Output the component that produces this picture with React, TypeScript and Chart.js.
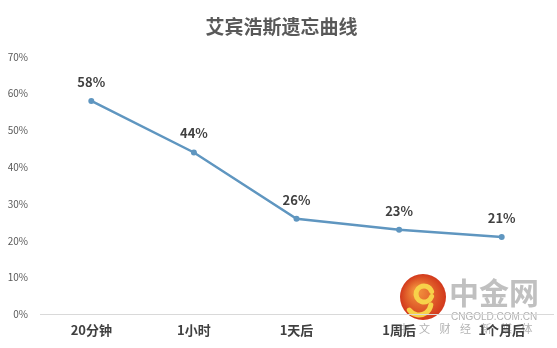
import React, { useEffect, useRef } from "react";
import { Chart, registerables } from "chart.js";

Chart.register(...registerables);

const TITLE = "艾宾浩斯遗忘曲线";
const categories = ["20分钟", "1小时", "1天后", "1周后", "1个月后"];
const retention = [58, 44, 26, 23, 21];
const yTicks = [0, 10, 20, 30, 40, 50, 60, 70];
const watermarkMain = "中金网";
const watermarkSub = "CNGOLD.COM.CN";
const watermarkSlogan = ["中", "文", "财", "经", "新", "媒", "体"];

const FONT = "'Noto Sans CJK SC', 'Noto Sans', sans-serif";

const watermarkPlugin = {
  id: "watermark",
  beforeDraw(chart: any) {
    const ctx = chart.ctx;
    ctx.save();
    const cx = 423, cy = 297, r = 23;
    const g = ctx.createRadialGradient(cx - 6, cy - 6, 4, cx, cy, r);
    g.addColorStop(0, "#f08a3a");
    g.addColorStop(1, "#d2381c");
    ctx.fillStyle = g;
    ctx.beginPath();
    ctx.arc(cx, cy, r, 0, Math.PI * 2);
    ctx.fill();
    ctx.strokeStyle = "#f7d24a";
    ctx.lineWidth = 5;
    ctx.lineCap = "round";
    ctx.beginPath();
    ctx.arc(cx + 1, cy - 3, 8, Math.PI * 0.1, Math.PI * 1.9);
    ctx.stroke();
    ctx.beginPath();
    ctx.arc(cx - 4, cy + 6, 12, Math.PI * 0.05, Math.PI * 0.8);
    ctx.stroke();
    ctx.fillStyle = "rgba(185,185,185,0.9)";
    ctx.font = `bold 30px ${FONT}`;
    ctx.textBaseline = "middle";
    ctx.textAlign = "left";
    ctx.fillText(watermarkMain, 449, 293);
    ctx.font = `10px 'Liberation Sans', sans-serif`;
    ctx.fillStyle = "rgba(170,170,170,0.9)";
    ctx.fillText(watermarkSub, 451, 317);
    ctx.font = `11px ${FONT}`;
    ctx.textAlign = "center";
    watermarkSlogan.forEach((c, i) => ctx.fillText(c, 404 + i * 20.5, 329));
    ctx.restore();
  },
};

const labelPlugin = {
  id: "pointLabels",
  afterDatasetsDraw(chart: any) {
    const ctx = chart.ctx;
    const meta = chart.getDatasetMeta(0);
    ctx.save();
    ctx.font = `bold 13px ${FONT}`;
    ctx.fillStyle = "#404040";
    ctx.textAlign = "center";
    ctx.textBaseline = "middle";
    meta.data.forEach((pt: any, i: number) => {
      ctx.fillText(retention[i] + "%", pt.x, pt.y - 19);
    });
    ctx.restore();
  },
};

export default function App() {
  const ref = useRef<HTMLCanvasElement>(null);
  useEffect(() => {
    document.body.style.margin = "0";
    const chart = new Chart(ref.current!, {
      type: "line",
      data: {
        labels: categories,
        datasets: [
          {
            data: retention,
            borderColor: "#5f96c0",
            backgroundColor: "#5f96c0",
            borderWidth: 2.5,
            pointRadius: 3,
            pointBackgroundColor: "#5f96c0",
            pointBorderWidth: 0,
            tension: 0,
          },
        ],
      },
      options: {
        responsive: false,
        animation: false,
        layout: { padding: { left: 8, right: 2, top: 0, bottom: 2 } },
        plugins: {
          legend: { display: false },
          tooltip: { enabled: false },
          title: {
            display: true,
            text: TITLE,
            color: "#595959",
            font: { family: FONT, size: 19, weight: "bold" },
            padding: { top: 15, bottom: 19 },
          },
        },
        scales: {
          x: {
            offset: true,
            grid: { display: false, drawTicks: false },
            border: { display: true, color: "#d9d9d9", width: 1 },
            ticks: {
              color: "#404040",
              font: { family: FONT, size: 13, weight: "bold" },
              padding: 8,
              maxRotation: 0,
            },
          },
          y: {
            min: 0,
            max: 70,
            grid: { display: false, drawTicks: false },
            border: { display: false },
            afterBuildTicks: (axis: any) => {
              axis.ticks = yTicks.map((v) => ({ value: v }));
            },
            afterFit: (axis: any) => {
              axis.width = 32;
            },
            ticks: {
              color: "#595959",
              font: { family: FONT, size: 10 },
              padding: 12,
              callback: (v: any) => v + "%",
            },
          },
        },
      },
      plugins: [watermarkPlugin, labelPlugin],
    });
    return () => chart.destroy();
  }, []);
  return (
    <div style={{ width: 557, height: 348, background: "#fff" }}>
      <canvas ref={ref} width={557} height={348} />
    </div>
  );
}
